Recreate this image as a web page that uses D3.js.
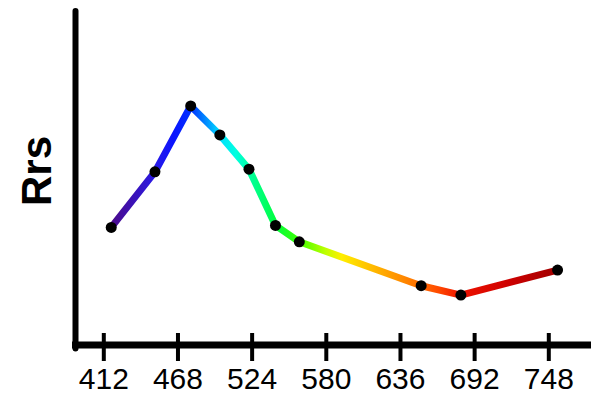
<!DOCTYPE html>
<html>
<head>
<meta charset="utf-8">
<script src="https://cdn.jsdelivr.net/npm/d3@7"></script>
<style>
  html, body { margin: 0; padding: 0; background: #fff; }
  svg { display: block; }
</style>
</head>
<body>
<svg id="chart" width="591" height="396"></svg>
<script>
// ---- data ----
const wavelengths = [418, 451, 478, 500, 522, 542, 560, 652, 682, 755];
const rrs = [0.00353, 0.00520, 0.00718, 0.00631, 0.00528, 0.00359, 0.00310, 0.00178, 0.00150, 0.00225];
const xTicks = [412, 468, 524, 580, 636, 692, 748];
const yLabel = "Rrs";

// ---- spectral colouring (style) ----
const gradWl = [418, 435, 451, 465, 478, 490, 500, 512, 522, 542, 560, 580, 592, 620, 650, 665, 682, 720, 755];
const gradCol = ["#4b0a8a", "#3a12b8", "#2a1ae6", "#0a14ff", "#0030ff", "#0090ff", "#00e0ff", "#00ffe0", "#00ffa0", "#00ff40", "#40ff00", "#c0ff00", "#ffee00", "#ffb000", "#ff7000", "#ff4a00", "#ee1200", "#cc0000", "#a00000"];

const svg = d3.select("#chart");

const x = d3.scaleLinear().domain([412, 748]).range([103.3, 548.3]);
const y = d3.scaleLinear().domain([0, 0.01]).range([345, 12]);

// gradient along x
const defs = svg.append("defs");
const grad = defs.append("linearGradient")
  .attr("id", "spec")
  .attr("gradientUnits", "userSpaceOnUse")
  .attr("x1", x(gradWl[0])).attr("x2", x(gradWl[gradWl.length - 1]))
  .attr("y1", 0).attr("y2", 0);
const span = gradWl[gradWl.length - 1] - gradWl[0];
gradWl.forEach((w, i) => {
  grad.append("stop")
    .attr("offset", ((w - gradWl[0]) / span))
    .attr("stop-color", gradCol[i]);
});

// axes
const xAxis = d3.axisBottom(x).tickValues(xTicks).tickSize(0).tickPadding(0).tickFormat(d3.format("d"));
const gx = svg.append("g").attr("transform", "translate(0,345)").call(xAxis);
gx.select(".domain").remove();
gx.selectAll(".tick text")
  .attr("y", 44)
  .attr("dy", null)
  .style("font-family", "'Liberation Sans', Arial, sans-serif")
  .style("font-size", "30px")
  .attr("fill", "#000");
gx.selectAll(".tick line")
  .attr("y1", -12).attr("y2", 16)
  .attr("stroke", "#000").attr("stroke-width", 4);

// axis lines
svg.append("line")
  .attr("x1", 72).attr("x2", 596)
  .attr("y1", 345).attr("y2", 345)
  .attr("stroke", "#000").attr("stroke-width", 7);
svg.append("line")
  .attr("x1", 75.5).attr("x2", 75.5)
  .attr("y1", 11).attr("y2", 348.5)
  .attr("stroke", "#000").attr("stroke-width", 6)
  .attr("stroke-linecap", "round");

// y label
svg.append("text")
  .attr("transform", "translate(51,171) rotate(-90)")
  .attr("text-anchor", "middle")
  .style("font-family", "'Liberation Sans', Arial, sans-serif")
  .style("font-weight", "bold")
  .style("font-size", "42px")
  .attr("fill", "#000")
  .text(yLabel);

// line
const pts = wavelengths.map((w, i) => [w, rrs[i]]);
const line = d3.line().x(d => x(d[0])).y(d => y(d[1]));
svg.append("path")
  .datum(pts)
  .attr("d", line)
  .attr("fill", "none")
  .attr("stroke", "url(#spec)")
  .attr("stroke-width", 7)
  .attr("stroke-linejoin", "round");

// points
svg.selectAll("circle.pt")
  .data(pts)
  .enter().append("circle")
  .attr("class", "pt")
  .attr("cx", d => x(d[0]))
  .attr("cy", d => y(d[1]))
  .attr("r", 5.5)
  .attr("fill", "#000");
</script>
</body>
</html>
